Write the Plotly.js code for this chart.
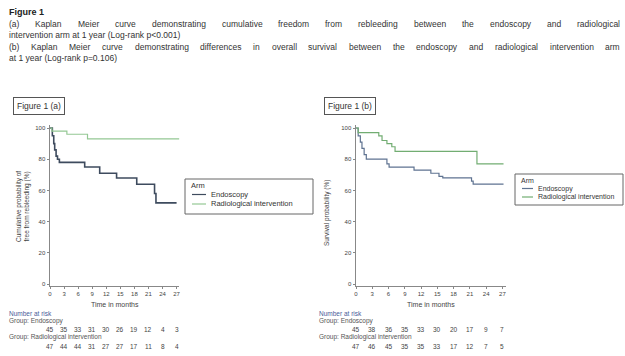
<!DOCTYPE html>
<html><head><meta charset="utf-8">
<script src="https://cdn.plot.ly/plotly-3.0.1.min.js"></script>
<style>html,body{margin:0;padding:0;background:#fff}#chart{width:625px;height:356px}</style>
</head><body><div id="chart"></div>
<script>
// ---- data ----
const tickMonths = [0, 3, 6, 9, 12, 15, 18, 21, 24, 27];
const yTicks = [0, 20, 40, 60, 80, 100];

const aEndoT = [0, 0.5, 0.8, 1.0, 1.3, 1.6, 2.0, 7.4, 10.6, 14.2, 18.5, 22.3, 22.6, 27.0];
const aEndoS = [100, 95, 90, 86, 82, 80, 78, 75, 71, 68, 64, 58, 52, 52];
const aRadT = [0, 0.4, 3.6, 8.0, 27.6];
const aRadS = [100, 98, 96, 93, 93];

const bEndoT = [0, 0.4, 0.8, 1.1, 1.5, 1.9, 5.7, 6.1, 10.7, 13.8, 15.3, 16.0, 21.3, 21.6, 27.2];
const bEndoS = [100, 95, 91, 87, 83, 80, 77, 75, 73, 71, 69, 68, 66, 64, 64];
const bRadT = [0, 0.4, 4.2, 4.8, 5.7, 6.6, 7.2, 22.3, 27.2];
const bRadS = [100, 97, 95, 92, 90, 88, 85, 77, 77];

const riskAEndo = [45, 35, 33, 31, 30, 26, 19, 12, 4, 3];
const riskARad = [47, 44, 44, 31, 27, 27, 17, 11, 8, 4];
const riskBEndo = [45, 38, 36, 35, 33, 30, 20, 17, 9, 7];
const riskBRad = [47, 46, 45, 35, 35, 33, 17, 12, 7, 5];

const seriesNames = ["Endoscopy", "Radiological intervention"];
const legendTitle = "Arm";

const heading = "Figure 1";
const line1 = "(a) Kaplan Meier curve demonstrating cumulative freedom from rebleeding between the endoscopy and radiological";
const line2 = "intervention arm at 1 year (Log-rank p<0.001)";
const line3 = "(b) Kaplan Meier curve demonstrating differences in overall survival between the endoscopy and radiological intervention arm";
const line4 = "at 1 year (Log-rank p=0.106)";

// ---- layout helpers ----
const W = 625, H = 356;
const FONT = "Liberation Sans, Arial, sans-serif";
const px = x => x / W;
const py = y => 1 - y / H;
const colA = ['#3e4b5e', '#94c894'];
const colB = ['#5f7391', '#72ad72'];

const annotations = [];
const shapes = [];
function txt(x, y, text, opt) {
  annotations.push(Object.assign({x: px(x), y: py(y), xref: 'paper', yref: 'paper', text: text,
    showarrow: false, xanchor: 'left', yanchor: 'middle', font: {family: FONT, size: 8.5, color: '#333'}}, opt || {}));
}
const ctx = document.createElement('canvas').getContext('2d');
function justified(x0, x1, y, text, size) {
  ctx.font = size + 'px "Liberation Sans", Arial, sans-serif';
  const words = text.split(' ');
  const widths = words.map(w => ctx.measureText(w).width);
  const total = widths.reduce((a, b) => a + b, 0);
  const gap = (x1 - x0 - total) / (words.length - 1);
  let x = x0;
  words.forEach((w, i) => { txt(x, y, w, {font: {family: FONT, size: size, color: '#333'}}); x += widths[i] + gap; });
}

txt(7, 12, "<b>" + heading + "</b>", {font: {family: FONT, size: 9, color: '#222'}});
justified(7, 618, 24, line1, 8.5);
txt(7, 35, line2);
justified(7, 618, 47, line3, 8.5);
txt(7, 58, line4);

txt(13, 106, "Figure 1 (a)", {borderpad: 3, bordercolor: '#555', borderwidth: 1, font: {family: FONT, size: 8.5, color: '#333'}});
txt(324, 106, "Figure 1 (b)", {borderpad: 3, bordercolor: '#555', borderwidth: 1, font: {family: FONT, size: 8.5, color: '#333'}});

txt(23, 207, "Cumulative probability of<br>free from rebleeding (%)", {xanchor: 'center', textangle: -90, font: {family: FONT, size: 6.5, color: '#444'}});
txt(327, 213, "Survival probability (%)", {xanchor: 'center', textangle: -90, font: {family: FONT, size: 6.5, color: '#444'}});

// custom compact legends
function legendBox(x0, y0, x1, y1, cols, dy, swL, size) {
  shapes.push({type: 'rect', xref: 'paper', yref: 'paper', x0: px(x0), x1: px(x1), y0: py(y0), y1: py(y1),
    line: {color: '#666', width: 1}, fillcolor: 'rgba(0,0,0,0)'});
  txt(x0 + 4, y0 + 6, legendTitle, {font: {family: FONT, size: size, color: '#333'}});
  seriesNames.forEach((n, i) => {
    const yy = y0 + 6 + dy * (i + 1);
    shapes.push({type: 'line', xref: 'paper', yref: 'paper', x0: px(x0 + 7), x1: px(x0 + 7 + swL), y0: py(yy), y1: py(yy),
      line: {color: cols[i], width: 1.2}});
    txt(x0 + 10 + swL, yy, n, {font: {family: FONT, size: size, color: '#333'}});
  });
}
legendBox(185, 179, 313, 214, colA, 9.5, 14, 7.5);
legendBox(515, 174, 623, 205, colB, 8.5, 11, 7);

// at risk tables
function riskTable(x0, xref, endo, rad) {
  txt(x0, 313.5, "Number at risk", {font: {family: FONT, size: 6.5, color: '#4a5d9a'}});
  txt(x0, 321, "Group: " + seriesNames[0], {font: {family: FONT, size: 6.5, color: '#555'}});
  txt(x0, 337, "Group: " + seriesNames[1], {font: {family: FONT, size: 6.5, color: '#555'}});
  tickMonths.forEach((m, i) => {
    annotations.push({x: m, xref: xref, y: py(329), yref: 'paper', text: String(endo[i]), showarrow: false,
      xanchor: 'center', yanchor: 'middle', font: {family: FONT, size: 6.5, color: '#444'}});
    annotations.push({x: m, xref: xref, y: py(346), yref: 'paper', text: String(rad[i]), showarrow: false,
      xanchor: 'center', yanchor: 'middle', font: {family: FONT, size: 6.5, color: '#444'}});
  });
}
riskTable(7, 'x', riskAEndo, riskARad);
riskTable(317, 'x2', riskBEndo, riskBRad);

// ---- axes ----
const yRange = [-1, 102];
const yDom = [py(285.6), py(124.9)];
function xAxis(domain, anchor) {
  return {domain: domain, anchor: anchor, range: [0, 27.6], tickvals: tickMonths, ticks: 'outside', ticklen: 2,
    tickcolor: '#888', showline: true, linecolor: '#888', linewidth: 1.5, showgrid: false, zeroline: false,
    tickfont: {family: FONT, size: 6, color: '#444'},
    title: {text: 'Time in months', font: {family: FONT, size: 7, color: '#444'}, standoff: 6}};
}
function yAxis(anchor) {
  return {domain: yDom, anchor: anchor, range: yRange, tickvals: yTicks, ticks: 'outside', ticklen: 2,
    tickcolor: '#888', showline: true, linecolor: '#888', linewidth: 1.5, showgrid: false, zeroline: false,
    tickfont: {family: FONT, size: 6, color: '#444'}};
}

const traces = [
  {x: aEndoT, y: aEndoS, name: seriesNames[0], mode: 'lines', line: {shape: 'hv', color: colA[0], width: 1.6}, xaxis: 'x', yaxis: 'y'},
  {x: aRadT, y: aRadS, name: seriesNames[1], mode: 'lines', line: {shape: 'hv', color: colA[1], width: 1.2}, xaxis: 'x', yaxis: 'y'},
  {x: bEndoT, y: bEndoS, name: seriesNames[0], mode: 'lines', line: {shape: 'hv', color: colB[0], width: 1.2}, xaxis: 'x2', yaxis: 'y2'},
  {x: bRadT, y: bRadS, name: seriesNames[1], mode: 'lines', line: {shape: 'hv', color: colB[1], width: 1.2}, xaxis: 'x2', yaxis: 'y2'}
];

const layout = {
  width: W, height: H, margin: {l: 0, r: 0, t: 0, b: 0}, paper_bgcolor: '#fff', plot_bgcolor: '#fff',
  showlegend: false,
  xaxis: xAxis([px(50), px(179.4)], 'y'),
  yaxis: yAxis('x'),
  xaxis2: xAxis([px(356), px(505.7)], 'y2'),
  yaxis2: yAxis('x2'),
  annotations: annotations,
  shapes: shapes
};

Plotly.newPlot('chart', traces, layout, {displayModeBar: false, staticPlot: true});
</script></body></html>
